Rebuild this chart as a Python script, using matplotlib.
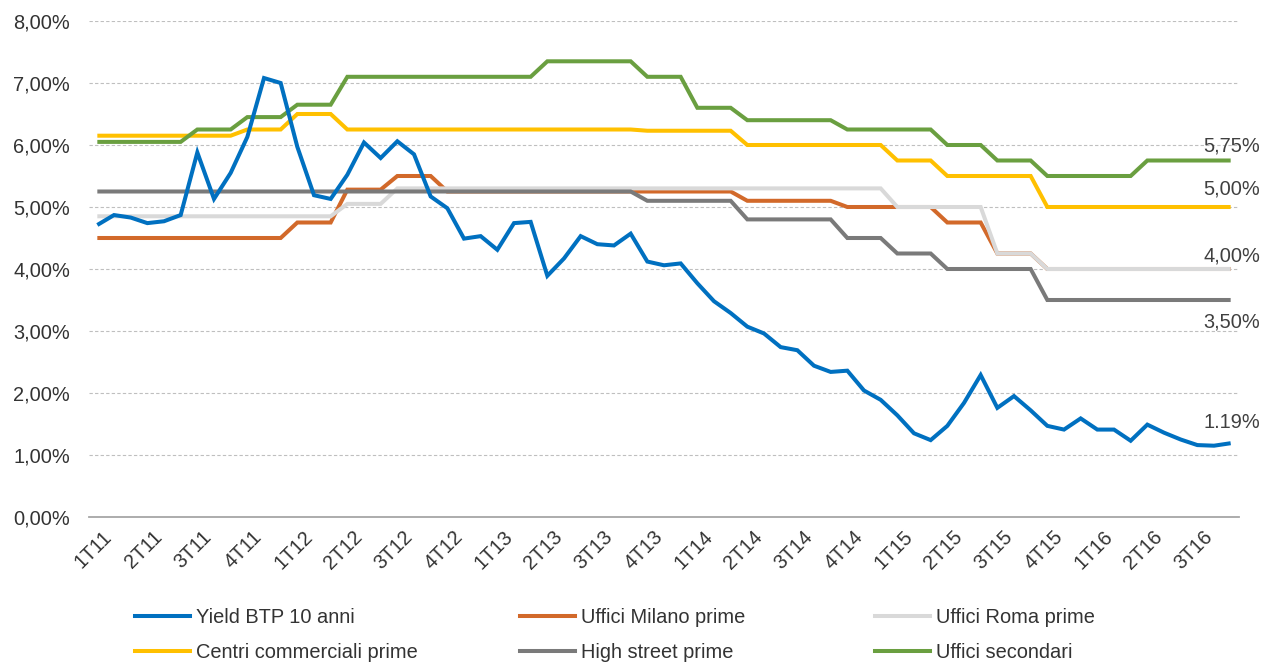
import matplotlib
matplotlib.use("Agg")
import matplotlib.pyplot as plt
from matplotlib.lines import Line2D
import numpy as np

plt.rcParams['font.family'] = ['Liberation Sans', 'DejaVu Sans']

quarter_labels = ["1T11", "2T11", "3T11", "4T11", "1T12", "2T12", "3T12", "4T12",
                  "1T13", "2T13", "3T13", "4T13", "1T14", "2T14", "3T14", "4T14",
                  "1T15", "2T15", "3T15", "4T15", "1T16", "2T16", "3T16"]

btp = [4.71, 4.87, 4.83, 4.74, 4.77, 4.87, 5.88, 5.13, 5.55, 6.13,
       7.08, 7.00, 5.97, 5.19, 5.13, 5.52, 6.04, 5.79, 6.06, 5.85,
       5.17, 4.98, 4.49, 4.53, 4.31, 4.74, 4.76, 3.89, 4.17, 4.53,
       4.40, 4.38, 4.57, 4.12, 4.06, 4.09, 3.77, 3.48, 3.29, 3.07,
       2.96, 2.74, 2.69, 2.44, 2.34, 2.36, 2.04, 1.89, 1.64, 1.35,
       1.24, 1.47, 1.84, 2.29, 1.76, 1.95, 1.72, 1.47, 1.41, 1.59,
       1.41, 1.41, 1.23, 1.49, 1.36, 1.25, 1.16, 1.15, 1.19]

milano = [4.50, 4.50, 4.50, 4.50, 4.50, 4.50, 4.50, 4.50, 4.50, 4.50,
          4.50, 4.50, 4.75, 4.75, 4.75, 5.28, 5.28, 5.28, 5.50, 5.50,
          5.50, 5.25, 5.25, 5.25, 5.25, 5.25, 5.25, 5.25, 5.25, 5.25,
          5.25, 5.25, 5.25, 5.25, 5.25, 5.25, 5.25, 5.25, 5.25, 5.10,
          5.10, 5.10, 5.10, 5.10, 5.10, 5.00, 5.00, 5.00, 5.00, 5.00,
          5.00, 4.75, 4.75, 4.75, 4.25, 4.25, 4.25, 4.00, 4.00, 4.00,
          4.00, 4.00, 4.00, 4.00, 4.00, 4.00, 4.00, 4.00, 4.00]

roma = [4.85, 4.85, 4.85, 4.85, 4.85, 4.85, 4.85, 4.85, 4.85, 4.85,
        4.85, 4.85, 4.85, 4.85, 4.85, 5.05, 5.05, 5.05, 5.30, 5.30,
        5.30, 5.30, 5.30, 5.30, 5.30, 5.30, 5.30, 5.30, 5.30, 5.30,
        5.30, 5.30, 5.30, 5.30, 5.30, 5.30, 5.30, 5.30, 5.30, 5.30,
        5.30, 5.30, 5.30, 5.30, 5.30, 5.30, 5.30, 5.30, 5.00, 5.00,
        5.00, 5.00, 5.00, 5.00, 4.25, 4.25, 4.25, 4.00, 4.00, 4.00,
        4.00, 4.00, 4.00, 4.00, 4.00, 4.00, 4.00, 4.00, 4.00]

centri = [6.15, 6.15, 6.15, 6.15, 6.15, 6.15, 6.15, 6.15, 6.15, 6.25,
          6.25, 6.25, 6.50, 6.50, 6.50, 6.25, 6.25, 6.25, 6.25, 6.25,
          6.25, 6.25, 6.25, 6.25, 6.25, 6.25, 6.25, 6.25, 6.25, 6.25,
          6.25, 6.25, 6.25, 6.23, 6.23, 6.23, 6.23, 6.23, 6.23, 6.00,
          6.00, 6.00, 6.00, 6.00, 6.00, 6.00, 6.00, 6.00, 5.75, 5.75,
          5.75, 5.50, 5.50, 5.50, 5.50, 5.50, 5.50, 5.00, 5.00, 5.00,
          5.00, 5.00, 5.00, 5.00, 5.00, 5.00, 5.00, 5.00, 5.00]

high_street = [5.25, 5.25, 5.25, 5.25, 5.25, 5.25, 5.25, 5.25, 5.25, 5.25,
               5.25, 5.25, 5.25, 5.25, 5.25, 5.25, 5.25, 5.25, 5.25, 5.25,
               5.25, 5.25, 5.25, 5.25, 5.25, 5.25, 5.25, 5.25, 5.25, 5.25,
               5.25, 5.25, 5.25, 5.10, 5.10, 5.10, 5.10, 5.10, 5.10, 4.80,
               4.80, 4.80, 4.80, 4.80, 4.80, 4.50, 4.50, 4.50, 4.25, 4.25,
               4.25, 4.00, 4.00, 4.00, 4.00, 4.00, 4.00, 3.50, 3.50, 3.50,
               3.50, 3.50, 3.50, 3.50, 3.50, 3.50, 3.50, 3.50, 3.50]

secondari = [6.05, 6.05, 6.05, 6.05, 6.05, 6.05, 6.25, 6.25, 6.25, 6.45,
             6.45, 6.45, 6.65, 6.65, 6.65, 7.10, 7.10, 7.10, 7.10, 7.10,
             7.10, 7.10, 7.10, 7.10, 7.10, 7.10, 7.10, 7.35, 7.35, 7.35,
             7.35, 7.35, 7.35, 7.10, 7.10, 7.10, 6.60, 6.60, 6.60, 6.40,
             6.40, 6.40, 6.40, 6.40, 6.40, 6.25, 6.25, 6.25, 6.25, 6.25,
             6.25, 6.00, 6.00, 6.00, 5.75, 5.75, 5.75, 5.50, 5.50, 5.50,
             5.50, 5.50, 5.50, 5.75, 5.75, 5.75, 5.75, 5.75, 5.75]

series_names = ["Yield BTP 10 anni", "Uffici Milano prime", "Uffici Roma prime",
                "Centri commerciali prime", "High street prime", "Uffici secondari"]
end_labels = ["1.19%", "4,00%", "5,00%", "3,50%", "5,75%"]
end_values = [btp[-1], roma[-1], centri[-1], high_street[-1], secondari[-1]]

colors = ["#0070C0", "#D2692A", "#D9D9D9", "#FFC000", "#7A7A7A", "#6A9F40"]
end_offsets = [(-27, 21), (-27, 13), (-27, 18), (-27, -22), (-27, 14)]

FS = 14.4
TXT = "#333333"

fig = plt.figure(figsize=(12.65, 6.63), dpi=100)
ax = fig.add_axes([89 / 1265, 1 - 517 / 663, (1239 - 89) / 1265, (517 - 21) / 663])

x = np.arange(len(btp))
data = [btp, milano, roma, centri, high_street, secondari]
zorders = [10, 3, 4, 5, 6, 7]
for vals, c, name, z in zip(data, colors, series_names, zorders):
    ax.plot(x, vals, color=c, lw=2.9, label=name, zorder=z,
            solid_joinstyle='miter', solid_capstyle='butt')

ax.set_xlim(-0.5, len(btp) - 0.5)
ax.set_ylim(0, 8)
ax.set_yticks(np.arange(0, 9, 1))
ax.set_yticklabels([f"{v:.2f}%".replace(".", ",") for v in np.arange(0, 9, 1)])
for yv in range(1, 9):
    ax.axhline(yv, color="#BFBFBF", lw=0.8, ls=(0, (3, 2)), zorder=1)

tick_pos = np.arange(len(quarter_labels)) * 3 - 0.24
ax.set_xticks(tick_pos)
ax.set_xticklabels(quarter_labels, rotation=45, ha='center', va='top')
ax.tick_params(axis='x', length=0, pad=7, labelsize=FS, labelcolor=TXT)
ax.tick_params(axis='y', length=0, pad=13.5, labelsize=FS, labelcolor=TXT)

for s in ["top", "right", "left"]:
    ax.spines[s].set_visible(False)
ax.spines["bottom"].set_color("#A6A6A6")
ax.spines["bottom"].set_linewidth(1.3)

for lab, val, off in zip(end_labels, end_values, end_offsets):
    ax.annotate(lab, xy=(x[-1], val), xytext=off, textcoords='offset pixels',
                ha='left', va='center', fontsize=FS, color="#404040",
                annotation_clip=False, zorder=12)

# Legend: three columns placed like the reference
col_x = [135 / 1265, 520 / 1265, 875 / 1265]
col_items = [[0, 3], [1, 4], [2, 5]]
for cx, items in zip(col_x, col_items):
    handles = [Line2D([0], [0], color=colors[i], lw=2.9) for i in items]
    labels = [series_names[i] for i in items]
    fig.legend(handles, labels, loc='upper left', bbox_to_anchor=(cx, 1 - 608 / 663),
               frameon=False, fontsize=FS, handlelength=2.75, handletextpad=0.3,
               borderpad=0, borderaxespad=0, labelspacing=0.8, labelcolor=TXT)

fig.savefig("out.png", dpi=100)
